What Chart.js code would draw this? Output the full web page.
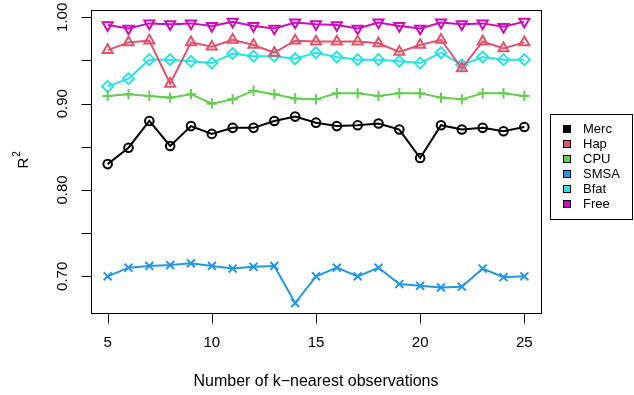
<!DOCTYPE html>
<html>
<head>
<meta charset="utf-8">
<script src="https://cdn.jsdelivr.net/npm/chart.js@4.4.1/dist/chart.umd.min.js"></script>
<style>
  html, body { margin: 0; padding: 0; background: #fff; }
  #wrap { width: 634px; height: 395px; position: relative; }
</style>
</head>
<body>
<div id="wrap"><canvas id="chart" width="634" height="395"></canvas></div>
<script>
// k values on the x axis
const kValues = [5, 6, 7, 8, 9, 10, 11, 12, 13, 14, 15, 16, 17, 18, 19, 20, 21, 22, 23, 24, 25];

// R^2 per data set
const merc = [0.830, 0.849, 0.880, 0.851, 0.874, 0.865, 0.872, 0.872, 0.880, 0.885, 0.878,
              0.874, 0.875, 0.877, 0.870, 0.837, 0.875, 0.870, 0.872, 0.868, 0.873];
const hap  = [0.962, 0.971, 0.973, 0.923, 0.971, 0.966, 0.974, 0.968, 0.959, 0.973, 0.972,
              0.972, 0.972, 0.970, 0.960, 0.968, 0.974, 0.941, 0.972, 0.964, 0.971];
const cpu  = [0.909, 0.911, 0.909, 0.907, 0.911, 0.900, 0.905, 0.915, 0.911, 0.906, 0.905,
              0.912, 0.912, 0.909, 0.912, 0.912, 0.907, 0.905, 0.912, 0.912, 0.909];
const smsa = [0.700, 0.710, 0.712, 0.713, 0.715, 0.712, 0.709, 0.711, 0.712, 0.669, 0.700,
              0.710, 0.700, 0.710, 0.691, 0.689, 0.687, 0.688, 0.709, 0.699, 0.700];
const bfat = [0.920, 0.929, 0.951, 0.951, 0.949, 0.947, 0.958, 0.955, 0.955, 0.952, 0.959,
              0.954, 0.951, 0.951, 0.949, 0.947, 0.959, 0.945, 0.954, 0.951, 0.951];
const free = [0.991, 0.987, 0.993, 0.992, 0.993, 0.990, 0.995, 0.990, 0.987, 0.994, 0.992,
              0.991, 0.987, 0.994, 0.990, 0.987, 0.994, 0.992, 0.993, 0.989, 0.995];

const seriesNames = ["Merc", "Hap", "CPU", "SMSA", "Bfat", "Free"];

// axis ticks
const xTicks = [5, 10, 15, 20, 25];
const yTicks = [0.70, 0.75, 0.80, 0.85, 0.90, 0.95, 1.00];
const yTickLabels = ["0.70", "", "0.80", "", "0.90", "", "1.00"];

const FONT = '"Liberation Sans", Arial, Helvetica, sans-serif';

// R default palette colours and plotting symbols
const seriesStyle = [
  { color: "#000000", pointStyle: "circle",   radius: 4.3, rotation: 0 },
  { color: "#DF536B", pointStyle: "triangle", radius: 5.8, rotation: 0 },
  { color: "#61D04F", pointStyle: "cross",    radius: 5.2, rotation: 0 },
  { color: "#2297E6", pointStyle: "crossRot", radius: 5.6, rotation: 0 },
  { color: "#28E2E5", pointStyle: "rectRot",  radius: 5.5, rotation: 0 },
  { color: "#CD0BBC", pointStyle: "triangle", radius: 5.8, rotation: 180 }
];

const seriesValues = [merc, hap, cpu, smsa, bfat, free];

const datasets = seriesValues.map((vals, i) => {
  const s = seriesStyle[i];
  return {
    label: seriesNames[i],
    data: vals.map((v, j) => ({ x: kValues[j], y: v })),
    borderColor: s.color,
    borderWidth: 2,
    pointStyle: s.pointStyle,
    pointRotation: s.rotation,
    pointRadius: s.radius,
    pointBorderColor: s.color,
    pointBorderWidth: 2,
    pointBackgroundColor: "rgba(0,0,0,0)",
    tension: 0,
    fill: false
  };
});

// box, axes, labels and legend in base-graphics style
const baseAxes = {
  id: "baseAxes",
  afterDraw(chart) {
    const ctx = chart.ctx;
    const a = chart.chartArea;
    const xs = chart.scales.x;
    const ys = chart.scales.y;
    const tick = 10;

    ctx.save();
    ctx.strokeStyle = "#000";
    ctx.lineWidth = 1;
    ctx.strokeRect(Math.round(a.left) + 0.5, Math.round(a.top) + 0.5,
                   Math.round(a.right - a.left), Math.round(a.bottom - a.top));

    ctx.fillStyle = "#000";
    ctx.font = "15px " + FONT;

    // x axis
    ctx.textAlign = "center";
    ctx.textBaseline = "middle";
    const xb = Math.round(a.bottom) + 0.5;
    ctx.beginPath();
    ctx.moveTo(Math.round(xs.getPixelForValue(xTicks[0])) + 0.5, xb);
    ctx.lineTo(Math.round(xs.getPixelForValue(xTicks[xTicks.length - 1])) + 0.5, xb);
    xTicks.forEach(t => {
      const px = Math.round(xs.getPixelForValue(t)) + 0.5;
      ctx.moveTo(px, xb);
      ctx.lineTo(px, xb + tick);
    });
    ctx.stroke();
    xTicks.forEach(t => {
      ctx.fillText(String(t), xs.getPixelForValue(t), a.bottom + 30);
    });

    // y axis
    const yl = Math.round(a.left) + 0.5;
    ctx.beginPath();
    yTicks.forEach(t => {
      const py = Math.round(ys.getPixelForValue(t)) + 0.5;
      ctx.moveTo(yl, py);
      ctx.lineTo(yl - tick, py);
    });
    ctx.stroke();
    yTicks.forEach((t, i) => {
      if (!yTickLabels[i]) return;
      ctx.save();
      ctx.translate(a.left - 28, ys.getPixelForValue(t));
      ctx.rotate(-Math.PI / 2);
      ctx.fillText(yTickLabels[i], 0, 0);
      ctx.restore();
    });

    // axis titles
    ctx.font = "16px " + FONT;
    ctx.fillText("Number of k\u2212nearest observations", (a.left + a.right) / 2, 382);
    ctx.save();
    ctx.translate(24, 163);
    ctx.rotate(-Math.PI / 2);
    ctx.textAlign = "center";
    ctx.font = "15px " + FONT;
    ctx.fillText("R", 0, 0);
    ctx.font = "10px " + FONT;
    ctx.fillText("2", 9, -7);
    ctx.restore();

    // legend
    const lx = 550.5, ly = 114.5, lw = 82, lh = 105, row = 15;
    ctx.strokeStyle = "#000";
    ctx.strokeRect(lx, ly, lw, lh);
    ctx.font = "13px " + FONT;
    ctx.textAlign = "left";
    chart.data.datasets.forEach((ds, i) => {
      const cy = 129 + i * row;
      ctx.fillStyle = ds.borderColor;
      ctx.fillRect(563, cy - 4, 8, 8);
      ctx.strokeStyle = "#000";
      ctx.strokeRect(563.5, cy - 3.5, 7, 7);
      ctx.fillStyle = "#000";
      ctx.fillText(ds.label, 583, cy);
    });
    ctx.restore();
  }
};

new Chart(document.getElementById("chart"), {
  type: "line",
  data: { datasets },
  options: {
    responsive: false,
    animation: false,
    layout: { padding: { left: 91, right: 93, top: 10, bottom: 82 } },
    plugins: {
      legend: { display: false },
      tooltip: { enabled: false }
    },
    scales: {
      x: { type: "linear", min: 4.2, max: 25.8, display: false },
      y: { type: "linear", min: 0.6575, max: 1.0085, display: false }
    }
  },
  plugins: [baseAxes]
});
</script>
</body>
</html>
